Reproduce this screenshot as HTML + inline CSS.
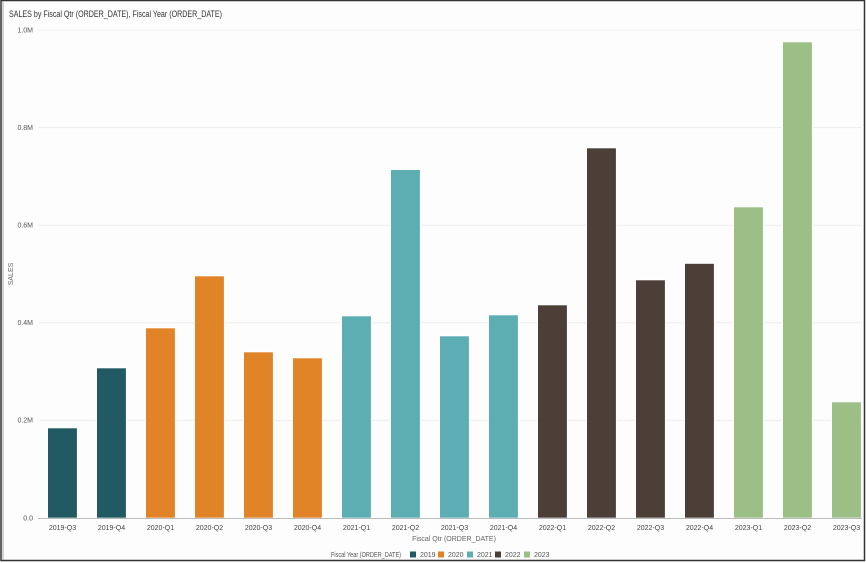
<!DOCTYPE html>
<html><head><meta charset="utf-8"><style>
html,body{margin:0;padding:0;background:#fff;}
svg{display:block;font-family:"Liberation Sans",sans-serif;}
</style></head><body>
<svg width="866" height="563" viewBox="0 0 866 563" xmlns="http://www.w3.org/2000/svg">
<rect x="0" y="0" width="866" height="563" fill="#fdfdfd"/>
<rect x="1" y="0.5" width="863.5" height="560" fill="none" stroke="#333" stroke-width="1.5"/>
<line x1="3" y1="1" x2="3" y2="560" stroke="#aaa" stroke-width="1"/>
<text x="9" y="17" font-size="9" fill="#333" textLength="213" lengthAdjust="spacingAndGlyphs">SALES by Fiscal Qtr (ORDER_DATE), Fiscal Year (ORDER_DATE)</text>
<g stroke="#eeeeee" stroke-width="1">
<line x1="38" y1="30" x2="862" y2="30"/>
<line x1="38" y1="127.6" x2="862" y2="127.6"/>
<line x1="38" y1="225.2" x2="862" y2="225.2"/>
<line x1="38" y1="322.8" x2="862" y2="322.8"/>
<line x1="38" y1="420.4" x2="862" y2="420.4"/>
</g>
<g font-size="7" fill="#555" text-anchor="end">
<text x="33" y="32.5">1.0M</text>
<text x="33" y="130">0.8M</text>
<text x="33" y="227.5">0.6M</text>
<text x="33" y="325">0.4M</text>
<text x="33" y="422.5">0.2M</text>
<text x="33" y="520.5">0.0</text>
</g>
<text transform="translate(13,274) rotate(-90)" font-size="7" fill="#666" text-anchor="middle">SALES</text>
<g stroke="#fff" stroke-width="0.6">
<rect x="47.7" y="428" width="29.5" height="90" fill="#215a63"/>
<rect x="96.7" y="368" width="29.5" height="150" fill="#215a63"/>
<rect x="145.7" y="328" width="29.5" height="190" fill="#e08427"/>
<rect x="194.7" y="276" width="29.5" height="242" fill="#e08427"/>
<rect x="243.7" y="352" width="29.5" height="166" fill="#e08427"/>
<rect x="292.7" y="358" width="29.5" height="160" fill="#e08427"/>
<rect x="341.7" y="316" width="29.5" height="202" fill="#5caeb3"/>
<rect x="390.7" y="169.7" width="29.5" height="348.3" fill="#5caeb3"/>
<rect x="439.7" y="336" width="29.5" height="182" fill="#5caeb3"/>
<rect x="488.7" y="315" width="29.5" height="203" fill="#5caeb3"/>
<rect x="537.7" y="305" width="29.5" height="213" fill="#4b3f37"/>
<rect x="586.7" y="148" width="29.5" height="370" fill="#4b3f37"/>
<rect x="635.7" y="280" width="29.5" height="238" fill="#4b3f37"/>
<rect x="684.7" y="263.5" width="29.5" height="254.5" fill="#4b3f37"/>
<rect x="733.7" y="207" width="29.5" height="311" fill="#9bbf85"/>
<rect x="782.7" y="42" width="29.5" height="476" fill="#9bbf85"/>
<rect x="831.7" y="402" width="29.5" height="116" fill="#9bbf85"/>
</g>
<line x1="38" y1="518.5" x2="862" y2="518.5" stroke="#bbb" stroke-width="1"/>
<g font-size="7" fill="#444" text-anchor="middle">
<text x="62.5" y="530">2019-Q3</text>
<text x="111.5" y="530">2019-Q4</text>
<text x="160.5" y="530">2020-Q1</text>
<text x="209.5" y="530">2020-Q2</text>
<text x="258.5" y="530">2020-Q3</text>
<text x="307.5" y="530">2020-Q4</text>
<text x="356.5" y="530">2021-Q1</text>
<text x="405.5" y="530">2021-Q2</text>
<text x="454.5" y="530">2021-Q3</text>
<text x="503.5" y="530">2021-Q4</text>
<text x="552.5" y="530">2022-Q1</text>
<text x="601.5" y="530">2022-Q2</text>
<text x="650.5" y="530">2022-Q3</text>
<text x="699.5" y="530">2022-Q4</text>
<text x="748.5" y="530">2023-Q1</text>
<text x="797.5" y="530">2023-Q2</text>
<text x="846.5" y="530">2023-Q3</text>
</g>
<text x="454" y="541" font-size="7" fill="#666" text-anchor="middle">Fiscal Qtr (ORDER_DATE)</text>
<g font-size="7" fill="#555">
<text x="331" y="557" textLength="70" lengthAdjust="spacingAndGlyphs">Fiscal Year (ORDER_DATE)</text>
<rect x="410" y="551.5" width="6" height="6" fill="#215a63"/><text x="420" y="557">2019</text>
<rect x="438" y="551.5" width="6" height="6" fill="#e08427"/><text x="448" y="557">2020</text>
<rect x="467" y="551.5" width="6" height="6" fill="#5caeb3"/><text x="477" y="557">2021</text>
<rect x="495" y="551.5" width="6" height="6" fill="#4b3f37"/><text x="505" y="557">2022</text>
<rect x="524" y="551.5" width="6" height="6" fill="#9bbf85"/><text x="534" y="557">2023</text>
</g>
</svg>
</body></html>
